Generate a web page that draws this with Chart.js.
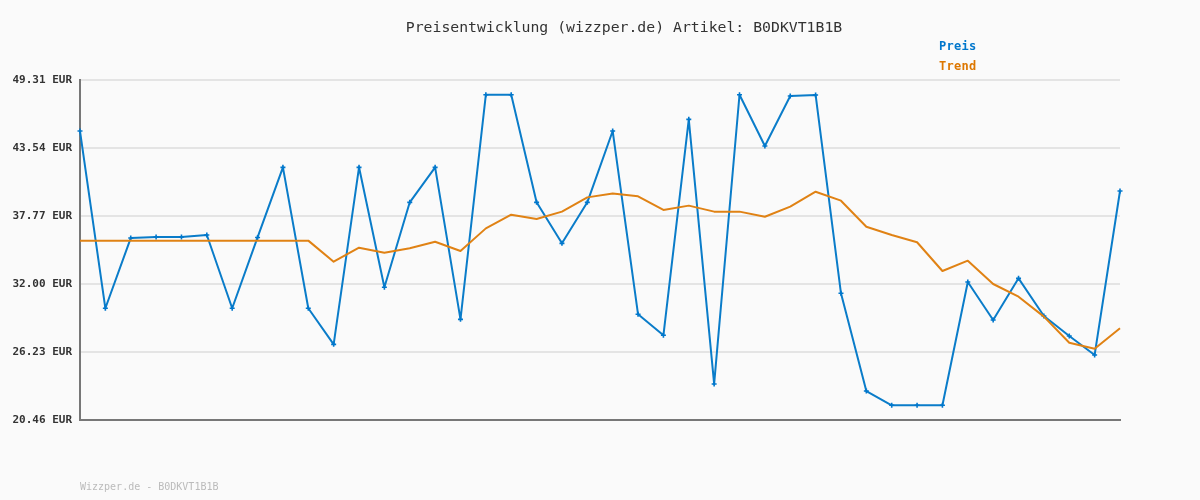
<!DOCTYPE html>
<html>
<head>
<meta charset="utf-8">
<script src="https://cdn.jsdelivr.net/npm/chart.js@4.4.1/dist/chart.umd.min.js"></script>
<style>
  html, body { margin: 0; padding: 0; background: #fafafa; }
  canvas { display: block; }
</style>
</head>
<body>
<canvas id="priceChart" width="1200" height="500"></canvas>
<script>
// Data
const categories = ["1","2","3","4","5","6","7","8","9","10","11","12","13","14",
  "15","16","17","18","19","20","21","22","23","24","25","26","27","28",
  "29","30","31","32","33","34","35","36","37","38","39","40","41","42"];

const preis = [44.98, 29.94, 35.90, 35.99, 35.99, 36.16, 29.94, 35.95, 41.90, 29.94,
  26.88, 41.90, 31.72, 38.93, 41.90, 29.00, 48.06, 48.06, 38.93, 35.45,
  38.93, 44.98, 29.43, 27.65, 45.97, 23.52, 48.06, 43.71, 47.95, 48.04,
  31.21, 22.92, 21.71, 21.71, 21.71, 32.17, 28.95, 32.48, 29.29, 27.59,
  25.98, 39.89];

const trend = [35.68, 35.68, 35.68, 35.68, 35.68, 35.68, 35.68, 35.68, 35.68, 35.68,
  33.89, 35.08, 34.66, 35.03, 35.59, 34.80, 36.72, 37.88, 37.52, 38.14,
  39.35, 39.67, 39.44, 38.28, 38.65, 38.14, 38.14, 37.71, 38.56, 39.83,
  39.07, 36.86, 36.16, 35.54, 33.10, 33.98, 32.00, 30.92, 29.23, 27.02,
  26.51, 28.24];

const yTicks = [20.46, 26.23, 32.00, 37.77, 43.54, 49.31];
const yTickLabels = ["20.46 EUR", "26.23 EUR", "32.00 EUR", "37.77 EUR", "43.54 EUR", "49.31 EUR"];

const titleText = "Preisentwicklung (wizzper.de) Artikel: B0DKVT1B1B";
const footerText = "Wizzper.de - B0DKVT1B1B";

const blue = "#0a7cc9";
const orange = "#e08214";
const mono = "'DejaVu Sans Mono', 'Liberation Mono', monospace";

// title, legend and footer text
const textPlugin = {
  id: "texts",
  afterDraw(chart) {
    const ctx = chart.ctx;
    ctx.save();
    ctx.textBaseline = "middle";

    ctx.font = "14.8px " + mono;
    ctx.fillStyle = "#333";
    ctx.textAlign = "center";
    ctx.fillText(titleText, 624, 28);

    ctx.letterSpacing = "0.3px";
    ctx.font = "bold 12px " + mono;
    ctx.textAlign = "left";
    ctx.fillStyle = "#0077cc";
    ctx.fillText("Preis", 939, 47);
    ctx.fillStyle = "#dd7700";
    ctx.fillText("Trend", 939, 67);

    ctx.letterSpacing = "0px";
    ctx.font = "10px " + mono;
    ctx.fillStyle = "#bbb";
    ctx.fillText(footerText, 80, 487);
    ctx.restore();
  }
};

const ctx = document.getElementById("priceChart").getContext("2d");
new Chart(ctx, {
  type: "line",
  data: {
    labels: categories,
    datasets: [
      {
        label: "Trend",
        data: trend,
        borderColor: orange,
        borderWidth: 2,
        borderJoinStyle: "round",
        pointRadius: 0,
        tension: 0,
        fill: false,
        clip: false,
      },
      {
        label: "Preis",
        data: preis,
        borderColor: blue,
        backgroundColor: blue,
        borderWidth: 2,
        borderJoinStyle: "round",
        pointStyle: "cross",
        pointRadius: 2.5,
        pointBorderWidth: 1.6,
        pointBorderColor: "#0077cc",
        tension: 0,
        fill: false,
        clip: false,
      },
    ],
  },
  options: {
    responsive: false,
    animation: false,
    layout: {
      padding: { top: 80, right: 80, left: 0, bottom: 0 },
    },
    plugins: {
      legend: { display: false },
      title: { display: false },
      tooltip: { enabled: false },
    },
    scales: {
      x: {
        offset: false,
        grid: { display: false },
        border: { color: "#777", width: 2 },
        ticks: { display: false },
        afterFit: function (scale) {
          scale.height = 80;
        },
      },
      y: {
        min: 20.46,
        max: 49.31,
        afterBuildTicks: function (scale) {
          scale.ticks = yTicks.map(function (v) { return { value: v }; });
        },
        afterFit: function (scale) {
          scale.width = 80;
        },
        grid: {
          color: "#e4e4e4",
          lineWidth: 2,
          drawTicks: false,
        },
        border: { color: "#777", width: 2 },
        ticks: {
          padding: 8,
          color: "#333",
          font: { family: mono, size: 11, weight: "bold" },
          callback: function (value) {
            const i = yTicks.indexOf(value);
            return i >= 0 ? yTickLabels[i] : "";
          },
        },
      },
    },
  },
  plugins: [textPlugin],
});
</script>
</body>
</html>
